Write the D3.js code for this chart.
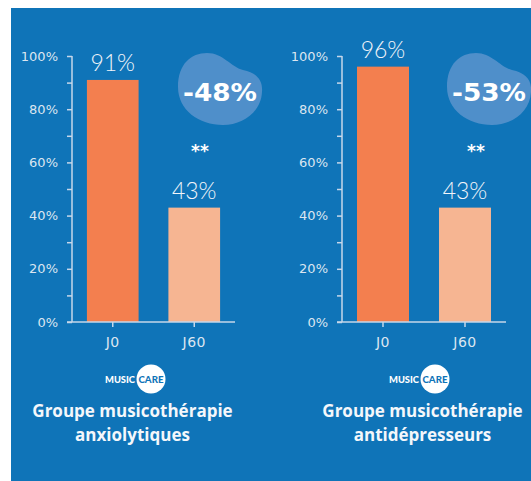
<!DOCTYPE html>
<html><head><meta charset="utf-8">
<script src="https://cdn.jsdelivr.net/npm/d3@7"></script>
<style>
html,body{margin:0;padding:0;background:#fff;}
svg{display:block;}
</style></head>
<body>
<svg id="c" width="531" height="481"></svg>
<script>
const categories = ["J0", "J60"];
const anxiolytiques = [91, 43];
const antidepresseurs = [96, 43];
const reductions = ["-48%", "-53%"];
const significance = ["**", "**"];
const titleLine1 = ["Groupe musicothérapie", "Groupe musicothérapie"];
const titleLine2 = ["anxiolytiques", "antidépresseurs"];
const yTicks = [0, 20, 40, 60, 80, 100];
const yMinorTicks = [10, 30, 50, 70, 90];

const series = [anxiolytiques, antidepresseurs];
const BLUE = "#0f74b8";
const barColors = ["#f37f4f", "#f6b592"];
const axisColor = "#c6d7ea";
const font = "Lato, 'Open Sans', sans-serif";
const tickFont = "'DejaVu Sans', sans-serif";

const svg = d3.select("#c");
svg.append("rect").attr("x", 11).attr("y", 8).attr("width", 520).attr("height", 473).attr("fill", BLUE);

const y = d3.scaleLinear().domain([0, 100]).range([322, 56]);

const panels = [
  {ax: 72, end: 235, blob: [221, 92], star: 200, logo: 151, title: 132.5},
  {ax: 342, end: 506, blob: [490, 92], star: 476, logo: 435, title: 422.5}
];

const blobPath = "M -43,-5 C -43,-28 -30,-39 -14,-39 C 2,-39 10,-25 22,-22 C 36,-19 42,-12 41,0 C 40,20 22,33 2,33 C -22,33 -43,18 -43,-5 Z";

panels.forEach((p, i) => {
  const g = svg.append("g");
  const x = d3.scaleBand().domain(categories).range([p.ax, p.end]).paddingInner(0.366).paddingOuter(0.183);

  // blob
  g.append("path").attr("d", blobPath)
    .attr("transform", `translate(${p.blob[0]},${p.blob[1]})`)
    .attr("fill", "#4f8fca");
  g.append("text").attr("x", p.blob[0] - 1).attr("y", 101)
    .attr("text-anchor", "middle").attr("fill", "#fff")
    .attr("font-family", "'DejaVu Sans', sans-serif").attr("font-weight", "bold")
    .attr("font-size", 25).attr("textLength", 74).attr("lengthAdjust", "spacingAndGlyphs")
    .text(reductions[i]);
  g.append("text").attr("x", p.star).attr("y", 157)
    .attr("text-anchor", "middle").attr("fill", "#fff")
    .attr("font-family", "'DejaVu Sans', sans-serif").attr("font-weight", "bold")
    .attr("font-size", 17).text(significance[i]);

  // bars
  g.selectAll("rect.bar").data(series[i]).enter().append("rect")
    .attr("class", "bar")
    .attr("x", (d, j) => x(categories[j]))
    .attr("width", x.bandwidth())
    .attr("y", d => y(d))
    .attr("height", d => y(0) - y(d))
    .attr("fill", (d, j) => barColors[j]);
  g.selectAll("text.val").data(series[i]).enter().append("text")
    .attr("class", "val")
    .attr("x", (d, j) => x(categories[j]) + x.bandwidth() / 2)
    .attr("y", d => y(d) - 9)
    .attr("text-anchor", "middle").attr("fill", "#f2f5fa")
    .attr("font-family", font).attr("font-weight", 300).attr("font-size", 23)
    .text(d => d + "%");

  // y axis
  const yAxis = d3.axisLeft(y).tickValues(yTicks).tickFormat(d => d + "%").tickSize(5).tickPadding(9);
  const ya = g.append("g").attr("transform", `translate(${p.ax},0)`).call(yAxis);
  ya.select(".domain").attr("stroke", axisColor).attr("stroke-width", 1.5).attr("d", `M0,${y(0)}V${y(100)}`);
  ya.selectAll(".tick line").attr("stroke", axisColor).attr("stroke-width", 1.5);
  ya.selectAll(".tick text").attr("fill", "#dce6f1").attr("font-family", tickFont).attr("font-size", 13);
  const yMinor = d3.axisLeft(y).tickValues(yMinorTicks).tickFormat("").tickSize(5);
  const ym = g.append("g").attr("transform", `translate(${p.ax},0)`).call(yMinor);
  ym.select(".domain").remove();
  ym.selectAll(".tick line").attr("stroke", axisColor).attr("stroke-width", 1.5);

  // x axis
  const xAxis = d3.axisBottom(x).tickSize(5).tickPadding(10);
  const xa = g.append("g").attr("transform", `translate(0,${y(0)})`).call(xAxis);
  xa.select(".domain").attr("stroke", axisColor).attr("stroke-width", 1.5).attr("d", `M${p.ax - 5},0H${p.end}`);
  xa.selectAll(".tick line").attr("stroke", axisColor).attr("stroke-width", 1.5);
  xa.selectAll(".tick text").attr("fill", "#dce6f1").attr("font-family", tickFont).attr("font-size", 14)
    .attr("letter-spacing", 0.5).attr("dy", "0.71em");

  // logo
  g.append("circle").attr("cx", p.logo).attr("cy", 379).attr("r", 14.5).attr("fill", "#fff");
  g.append("text").attr("x", p.logo - 46).attr("y", 382.5).attr("text-anchor", "start")
    .attr("fill", "#fff").attr("font-family", font).attr("font-weight", 900).attr("font-size", 9)
    .attr("textLength", 30).attr("lengthAdjust", "spacingAndGlyphs").text("MUSIC");
  g.append("text").attr("x", p.logo - 12.5).attr("y", 382.5).attr("text-anchor", "start")
    .attr("fill", BLUE).attr("font-family", font).attr("font-weight", 900).attr("font-size", 9)
    .attr("textLength", 25).attr("lengthAdjust", "spacingAndGlyphs").text("CARE");

  // titles
  g.append("text").attr("x", p.title).attr("y", 417).attr("text-anchor", "middle")
    .attr("fill", "#f4f7fb").attr("font-family", "'Open Sans', sans-serif").attr("font-weight", "bold")
    .attr("font-size", 17).text(titleLine1[i]);
  g.append("text").attr("x", p.title).attr("y", 441).attr("text-anchor", "middle")
    .attr("fill", "#f4f7fb").attr("font-family", "'Open Sans', sans-serif").attr("font-weight", "bold")
    .attr("font-size", 17).text(titleLine2[i]);
});
</script>
</body></html>
